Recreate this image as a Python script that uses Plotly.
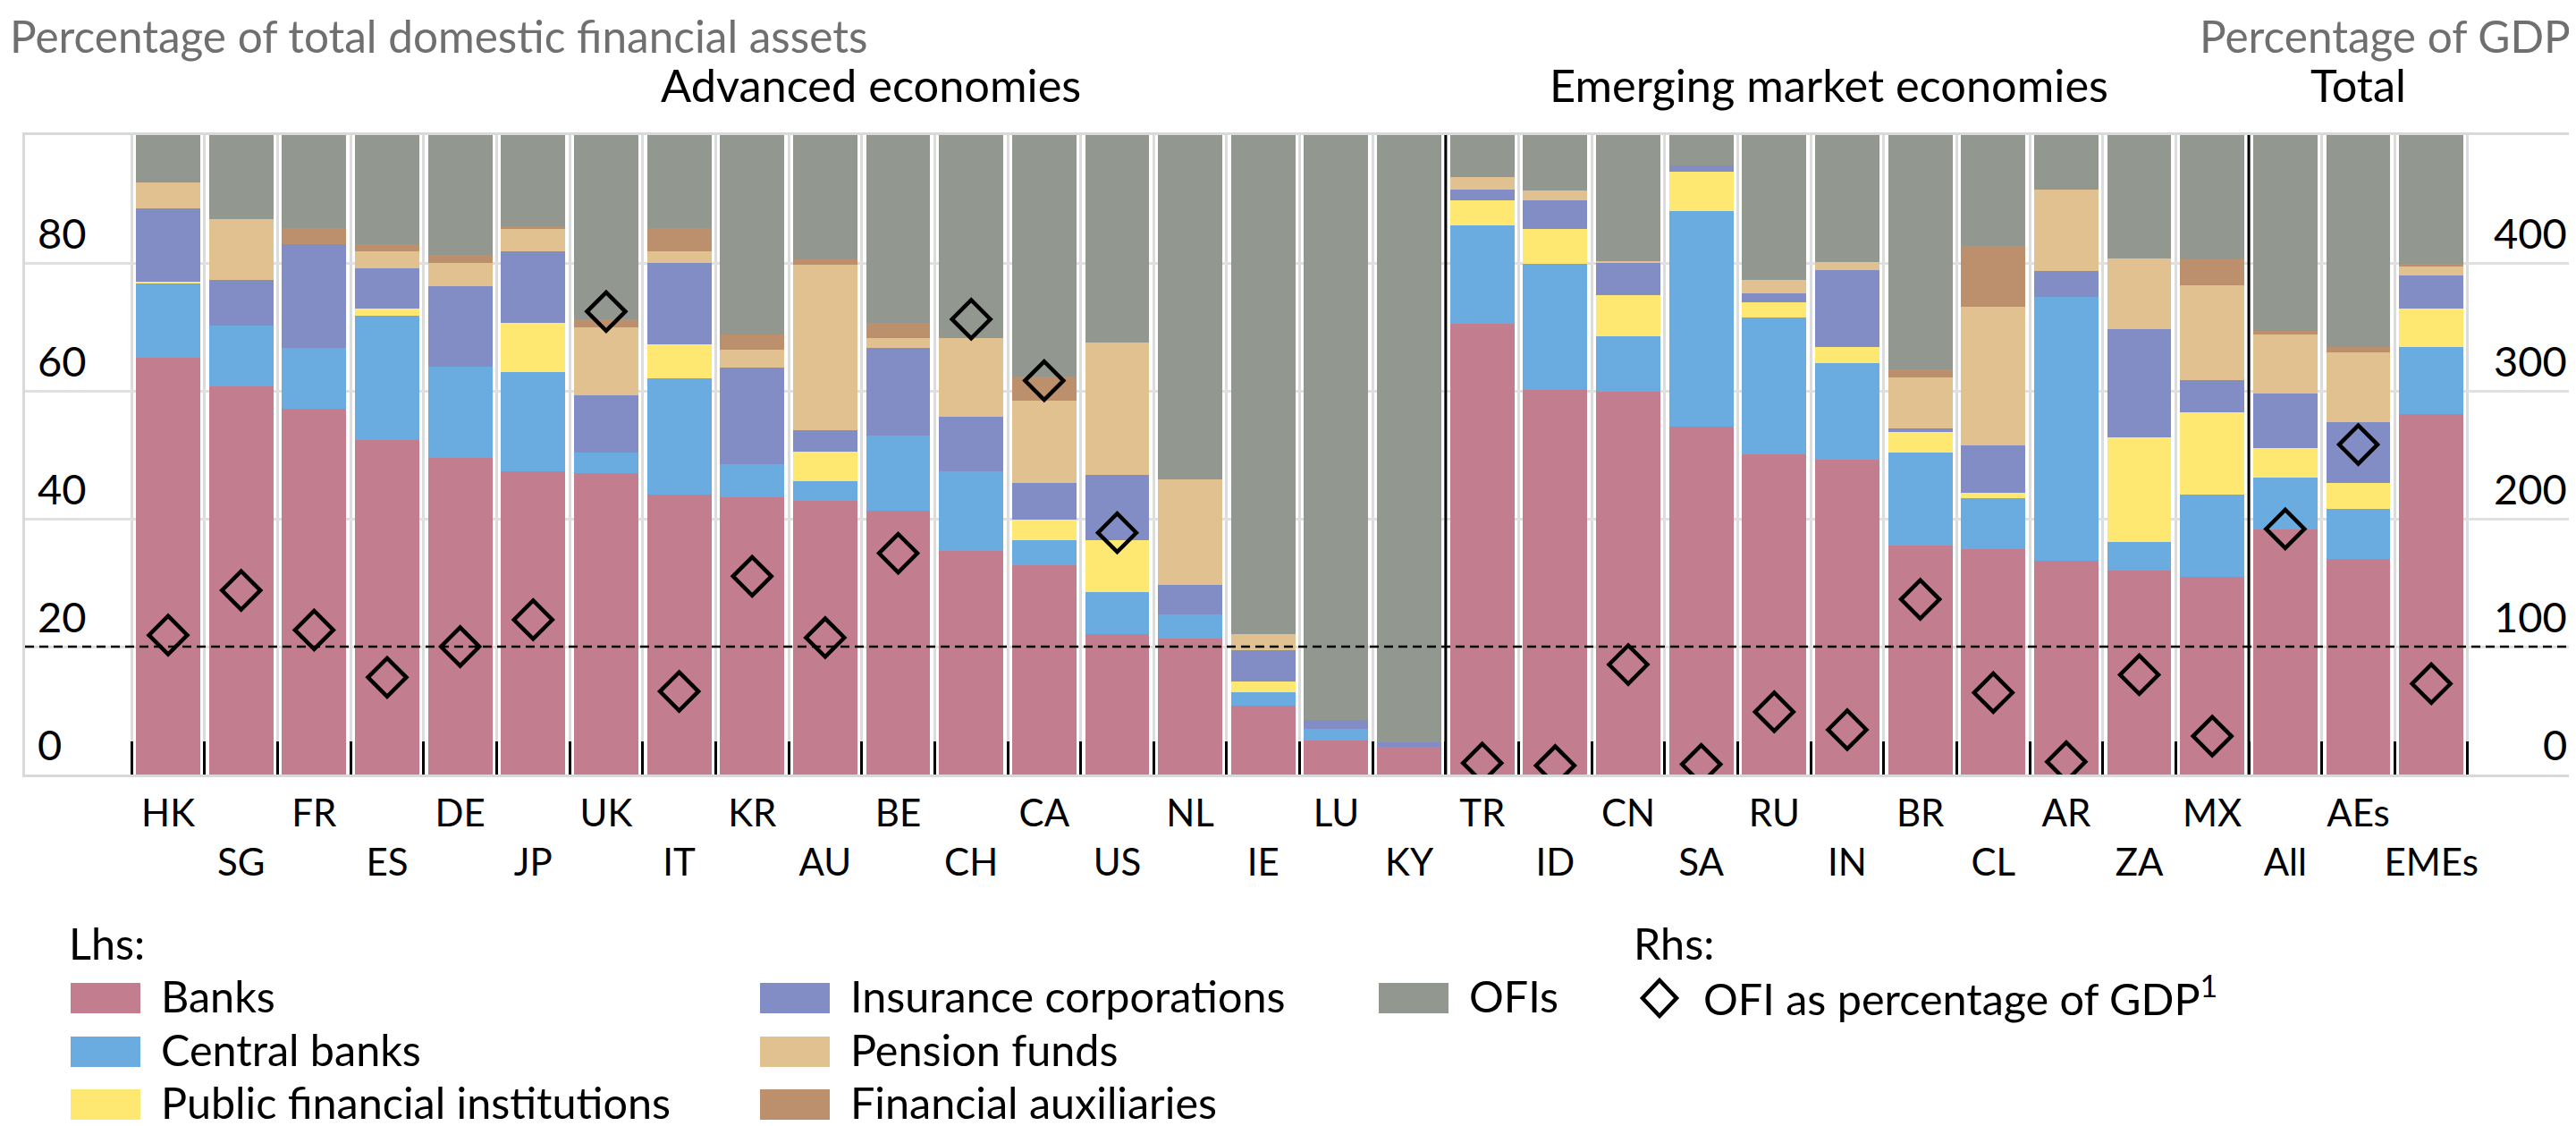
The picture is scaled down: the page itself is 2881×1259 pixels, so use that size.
import plotly.graph_objects as go

# ---------------- data ----------------
categories = ["HK", "SG", "FR", "ES", "DE", "JP", "UK", "IT", "KR", "AU", "BE", "CH", "CA", "US",
              "NL", "IE", "LU", "KY", "TR", "ID", "CN", "SA", "RU", "IN", "BR", "CL", "AR", "ZA",
              "MX", "All", "AEs", "EMEs"]

banks = [65.2, 60.7, 57.2, 52.3, 49.5, 47.4, 47.1, 43.8, 43.4, 42.8, 41.3, 34.9, 32.7, 22.0,
         21.2, 10.8, 5.3, 4.4, 70.5, 60.1, 59.8, 54.4, 50.1, 49.3, 35.8, 35.2, 33.4, 31.9,
         30.9, 38.3, 33.7, 56.3]
central_banks = [11.6, 9.5, 9.5, 19.5, 14.3, 15.6, 3.3, 18.2, 5.2, 3.1, 11.7, 12.5, 4.0, 6.5,
                 3.9, 2.1, 1.8, 0.0, 15.4, 19.8, 8.8, 33.7, 21.3, 15.0, 14.6, 8.0, 41.3, 4.5,
                 12.9, 8.2, 7.9, 10.5]
public_fi = [0.3, 0.0, 0.0, 1.0, 0.0, 7.6, 0.0, 5.3, 0.0, 4.6, 0.0, 0.0, 3.1, 8.2,
             0.0, 1.6, 0.0, 0.0, 3.9, 5.4, 6.4, 6.1, 2.4, 2.5, 3.1, 0.9, 0.0, 16.3,
             12.8, 4.6, 4.0, 6.0]
insurance = [11.5, 7.2, 16.3, 6.4, 12.6, 11.2, 8.9, 12.7, 15.0, 3.4, 13.7, 8.6, 5.8, 10.1,
             4.5, 4.9, 1.5, 0.6, 1.6, 4.5, 5.0, 1.1, 1.5, 12.1, 0.6, 7.3, 4.0, 16.9,
             5.1, 8.5, 9.5, 5.2]
pension = [4.0, 9.4, 0.0, 2.6, 3.6, 3.5, 10.7, 1.8, 2.9, 25.8, 1.5, 12.2, 12.8, 20.8,
           16.6, 2.5, 0.0, 0.0, 2.0, 1.5, 0.3, 0.0, 2.1, 1.3, 8.0, 21.8, 12.7, 11.1,
           14.8, 9.2, 10.9, 1.5]
fin_aux = [0.0, 0.0, 2.5, 1.2, 1.2, 0.4, 1.2, 3.7, 2.3, 0.9, 2.4, 0.0, 3.9, 0.0,
           0.0, 0.0, 0.0, 0.0, 0.0, 0.0, 0.0, 0.0, 0.0, 0.0, 1.2, 9.4, 0.0, 0.0,
           4.0, 0.6, 0.8, 0.4]
ofis = [7.4, 13.2, 14.5, 17.0, 18.8, 14.3, 28.8, 14.5, 31.2, 19.4, 29.4, 31.8, 37.7, 32.4,
        53.8, 78.1, 91.4, 95.0, 6.6, 8.7, 19.7, 4.7, 22.6, 19.8, 36.7, 17.4, 8.6, 19.3,
        19.5, 30.6, 33.2, 20.1]
ofi_gdp = [109, 144, 113, 76, 100, 121, 362, 65, 155, 107, 173, 356, 308, 189,
           None, None, None, None, 9, 7, 86, 8, 49, 35, 137, 64, 10, 78,
           30, 192, 258, 71]

lhs_ticks = [0, 20, 40, 60, 80]
rhs_ticks = [0, 100, 200, 300, 400]
reference_line_lhs = 20

series_names = ["Banks", "Central banks", "Public financial institutions",
                "Insurance corporations", "Pension funds", "Financial auxiliaries", "OFIs"]
series_values = [banks, central_banks, public_fi, insurance, pension, fin_aux, ofis]
series_colors = ["#C27E8E", "#6AACDF", "#FEE872", "#818DC4", "#E2C190", "#BD906D", "#92978F"]

# ---------------- geometry ----------------
W, H = 2881, 1259
L, R, T, B = 20, 9, 143, 401
PW, PH = W - L - R, H - T - B


def px(x):
    return (x - L) / PW


def py(y):
    return (H - B - y) / PH


FONT = "Lato"
xrange_ = [-1.96, 32.97]

fig = go.Figure()
for name, vals, col in zip(series_names, series_values, series_colors):
    fig.add_trace(go.Bar(x=categories, y=vals, name=name,
                         marker=dict(color=col, line=dict(width=0)),
                         xaxis="x", yaxis="y"))

fig.add_trace(go.Scatter(x=categories, y=ofi_gdp, mode="markers",
                         name="OFI as percentage of GDP",
                         marker=dict(symbol="diamond-open", size=33, color="black",
                                     line=dict(width=4.5, color="black")),
                         xaxis="x2", yaxis="y2"))

row1 = [c if i % 2 == 0 else "" for i, c in enumerate(categories)]
row2_vals = categories[1::2]

fig.update_layout(
    width=W, height=H,
    margin=dict(l=L, r=R, t=T, b=B, autoexpand=False),
    barmode="stack", bargap=0.12, showlegend=False,
    plot_bgcolor="white", paper_bgcolor="white",
    font=dict(family=FONT, color="black"),
    xaxis=dict(type="category", categoryorder="array", categoryarray=categories,
               range=xrange_, tickmode="array", tickvals=categories, ticktext=row1,
               tickson="boundaries", ticks="inside", ticklen=37, tickwidth=3,
               tickcolor="black", showgrid=True, gridcolor="#dcdcdc", gridwidth=3,
               showline=True, linecolor="#d9d9d9", linewidth=3, mirror=True,
               tickfont=dict(size=42, family=FONT, color="black"),
               ticklabelstandoff=5),
    xaxis2=dict(type="category", categoryorder="array", categoryarray=categories,
                overlaying="x", anchor="y", side="bottom", range=xrange_,
                tickmode="array", tickvals=row2_vals, ticktext=row2_vals,
                ticks="", showgrid=False, showline=False, zeroline=False,
                tickfont=dict(size=42, family=FONT, color="black"),
                ticklabelstandoff=70),
    yaxis=dict(range=[0, 100], tickmode="array", tickvals=lhs_ticks,
               showticklabels=False,
               ticks="", showgrid=True, gridcolor="#e0e0e0", gridwidth=3,
               showline=True, linecolor="#d9d9d9", linewidth=3, mirror=True,
               zeroline=False),
    yaxis2=dict(range=[0, 500], overlaying="y", side="right", anchor="x",
                tickmode="array", tickvals=rhs_ticks, showticklabels=False,
                ticks="", showgrid=False, showline=False, zeroline=False),
)

shapes = []
# dashed reference line (lhs 20 = rhs 100)
shapes.append(dict(type="line", xref="paper", x0=0, x1=1, yref="y",
                   y0=reference_line_lhs, y1=reference_line_lhs,
                   line=dict(color="black", width=2.5, dash="10px,6px"), layer="above"))
# group separators
for xb in [17.5, 28.5]:
    shapes.append(dict(type="line", xref="x", x0=xb, x1=xb, yref="paper", y0=0, y1=1,
                       line=dict(color="black", width=3), layer="above"))

annotations = []
TICK_FONT = dict(size=47, family=FONT, color="black")
# y-axis tick labels, sitting just above their grid lines (inside the frame)
for v in lhs_ticks:
    annotations.append(dict(text=str(v), xref="paper", yref="y", x=px(33), y=v,
                            xanchor="left", yanchor="bottom", yshift=5, borderpad=0,
                            showarrow=False, font=TICK_FONT))
for v in rhs_ticks:
    annotations.append(dict(text=str(v), xref="paper", yref="y2", x=px(2864), y=v,
                            xanchor="right", yanchor="bottom", yshift=5, borderpad=0,
                            showarrow=False, font=TICK_FONT))

GRAY = "#6f6f6f"
annotations.append(dict(text="Percentage of total domestic financial assets", xref="paper",
                        yref="paper", x=px(2), y=py(1), xanchor="left", yanchor="top",
                        borderpad=0, showarrow=False,
                        font=dict(size=49.5, color=GRAY, family=FONT)))
annotations.append(dict(text="Percentage of GDP", xref="paper", yref="paper",
                        x=px(2868), y=py(1), xanchor="right", yanchor="top",
                        borderpad=0, showarrow=False,
                        font=dict(size=49.5, color=GRAY, family=FONT)))
for txt, xc in [("Advanced economies", 9.63), ("Emerging market economies", 22.75), ("Total", 30.0)]:
    annotations.append(dict(text=txt, xref="x", yref="paper", x=xc, y=py(86),
                            xanchor="center", yanchor="middle", showarrow=False,
                            font=dict(size=50.5, color="black", family=FONT)))

# ---------------- legend (drawn) ----------------
LEG_FONT = dict(size=48.5, color="black", family=FONT)
annotations.append(dict(text="Lhs:", xref="paper", yref="paper", x=px(68), y=py(1046),
                        xanchor="left", yanchor="middle", showarrow=False, font=LEG_FONT,
                        borderpad=0))
annotations.append(dict(text="Rhs:", xref="paper", yref="paper", x=px(1818), y=py(1046),
                        xanchor="left", yanchor="middle", showarrow=False, font=LEG_FONT,
                        borderpad=0))
legend_layout = [  # (series index, swatch left, row center)
    (0, 71, 1108), (1, 71, 1168), (2, 71, 1227),
    (3, 842, 1108), (4, 842, 1168), (5, 842, 1227),
    (6, 1534, 1108),
]
for idx, xs, yc in legend_layout:
    shapes.append(dict(type="rect", xref="paper", yref="paper",
                       x0=px(xs), x1=px(xs + 78), y0=py(yc + 17), y1=py(yc - 17),
                       line=dict(width=0), fillcolor=series_colors[idx], layer="above"))
    annotations.append(dict(text=series_names[idx], xref="paper", yref="paper",
                            x=px(xs + 100), y=py(yc - 3), xanchor="left", yanchor="middle",
                            showarrow=False, font=LEG_FONT, borderpad=0))
# diamond legend symbol
cx, cy, hw, hh = 1848, 1108, 19, 20
shapes.append(dict(type="path", xref="paper", yref="paper",
                   path=f"M {px(cx)},{py(cy - hh)} L {px(cx + hw)},{py(cy)} L {px(cx)},{py(cy + hh)} L {px(cx - hw)},{py(cy)} Z",
                   line=dict(color="black", width=4.5), fillcolor="white", layer="above"))
annotations.append(dict(text="OFI as percentage of GDP<sup>1</sup>", xref="paper", yref="paper",
                        x=px(1896), y=py(1105), xanchor="left", yanchor="middle",
                        showarrow=False, font=LEG_FONT, borderpad=0))

fig.update_layout(shapes=shapes, annotations=annotations)
fig.write_html("out.html")
